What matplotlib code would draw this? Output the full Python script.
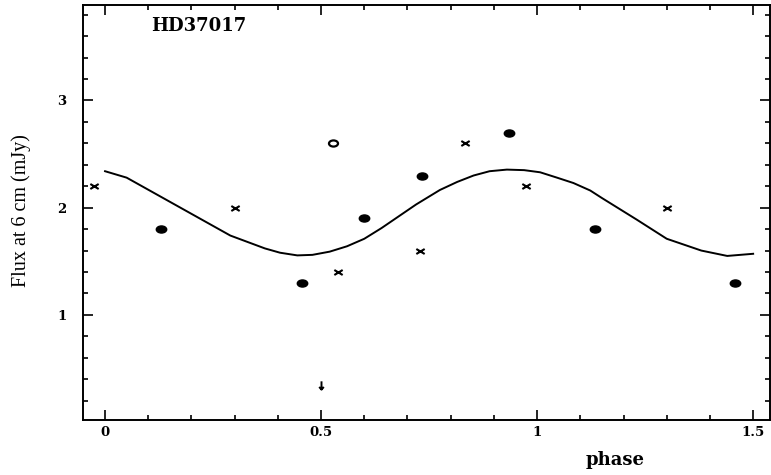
import matplotlib
matplotlib.use("Agg")
import matplotlib.pyplot as plt
import numpy as np
from matplotlib.path import Path
from matplotlib.ticker import MultipleLocator

# detections with filled symbols
dot_phase = [0.13, 0.455, 0.60, 0.733, 0.934, 1.134, 1.458]
dot_flux = [1.8, 1.3, 1.9, 2.3, 2.7, 1.8, 1.3]

# crosses
cross_phase = [-0.025, 0.30, 0.54, 0.73, 0.833, 0.975, 1.30]
cross_flux = [2.2, 2.0, 1.4, 1.6, 2.6, 2.2, 2.0]

# open symbol
open_phase = [0.528]
open_flux = [2.6]

# upper limit
uplim_phase = [0.50]
uplim_flux = [0.35]

# model curve
curve_phase = [0.00, 0.05, 0.13, 0.21, 0.29, 0.33, 0.37, 0.405, 0.445, 0.48,
               0.52, 0.56, 0.60, 0.64, 0.72, 0.775, 0.815, 0.853, 0.89, 0.93,
               0.97, 1.007, 1.046, 1.084, 1.123, 1.15, 1.23, 1.30, 1.38, 1.44,
               1.50]
curve_flux = [2.34, 2.28, 2.10, 1.92, 1.74, 1.68, 1.62, 1.58, 1.555, 1.56,
              1.59, 1.64, 1.71, 1.81, 2.03, 2.165, 2.24, 2.30, 2.34, 2.355,
              2.35, 2.33, 2.28, 2.23, 2.16, 2.09, 1.89, 1.71, 1.60, 1.55,
              1.57]

# marker shapes
circ = Path.unit_circle()
ellipse = Path(circ.vertices * np.array([1.0, 0.68]), circ.codes)
flat_x = Path([(-1, -0.6), (1, 0.6), (-1, 0.6), (1, -0.6)],
              [Path.MOVETO, Path.LINETO, Path.MOVETO, Path.LINETO])
down_arrow = Path([(0, 1), (0, -1), (-0.55, -0.35), (0, -1), (0.55, -0.35)],
                  [Path.MOVETO, Path.LINETO, Path.MOVETO, Path.LINETO, Path.LINETO])

fig = plt.figure(figsize=(7.71, 4.75), dpi=100)
ax = fig.add_axes([83 / 771, 1 - 420 / 475, 687 / 771, 415 / 475])

ax.plot(curve_phase, curve_flux, color='black', lw=1.4)
ax.plot(dot_phase, dot_flux, ls='none', marker=ellipse, ms=7.5, color='black')
ax.plot(cross_phase, cross_flux, ls='none', marker=flat_x, ms=6, mew=1.5,
        color='black')
ax.plot(open_phase, open_flux, ls='none', marker=ellipse, ms=6.5, mew=1.6,
        mfc='none', mec='black')
ax.plot(uplim_phase, uplim_flux, ls='none', marker=down_arrow, ms=6, mew=1.4,
        color='black')

ax.set_xlim(-0.051, 1.539)
ax.set_ylim(0.02, 3.89)

ax.xaxis.set_major_locator(MultipleLocator(0.5))
ax.xaxis.set_minor_locator(MultipleLocator(0.1))
ax.yaxis.set_major_locator(MultipleLocator(1))
ax.yaxis.set_minor_locator(MultipleLocator(0.2))
ax.set_xticks([0, 0.5, 1, 1.5])
ax.set_xticklabels(['0', '0.5', '1', '1.5'])
ax.set_yticks([1, 2, 3])
ax.set_yticklabels(['1', '2', '3'])

ax.tick_params(which='both', direction='in', top=True, right=True,
               width=1.2, color='black')
ax.tick_params(which='major', length=7)
ax.tick_params(which='minor', length=3.5)
ax.tick_params(axis='x', pad=4)
ax.tick_params(axis='y', pad=12)
for lab in ax.get_xticklabels() + ax.get_yticklabels():
    lab.set_fontfamily('DejaVu Serif')
    lab.set_fontweight('bold')
    lab.set_fontsize(9.5)

for sp in ax.spines.values():
    sp.set_linewidth(1.4)

ax.set_ylabel('Flux at 6 cm (mJy)', family='Liberation Serif', fontsize=14.5)
ax.yaxis.set_label_coords(-0.075, 0.504)
ax.set_xlabel('phase', family='DejaVu Serif', fontweight='bold', fontsize=13)
ax.xaxis.set_label_coords(0.774, -0.075)

ax.text(0.168, 0.95, 'HD37017', transform=ax.transAxes, ha='center',
        va='center', family='DejaVu Serif', fontweight='bold', fontsize=13)

fig.savefig('out.png', dpi=100)
